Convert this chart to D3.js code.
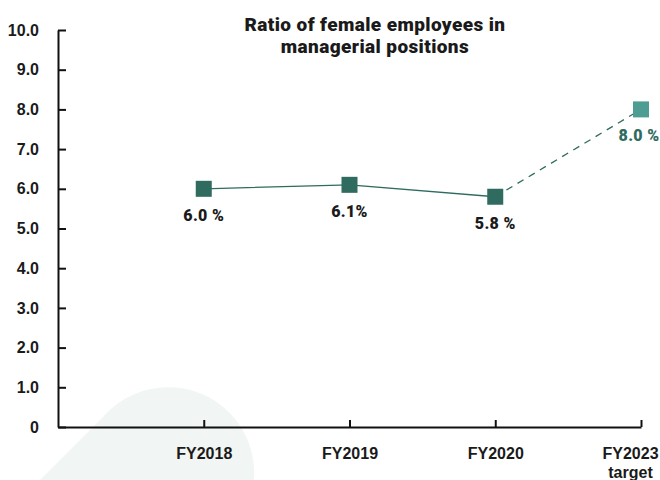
<!DOCTYPE html>
<html>
<head>
<meta charset="utf-8">
<script src="https://cdn.jsdelivr.net/npm/d3@7"></script>
<style>
  body { margin: 0; background: #fff; }
  svg { display: block; font-family: Roboto, "Noto Sans", sans-serif; }
  .axis text { font-weight: 900; font-size: 16px; fill: #1a1a1a; }
  .axis path, .axis line { stroke: #111; stroke-width: 2; }
</style>
</head>
<body>
<svg></svg>
<script>
const width = 660;
const height = 480;

// data
const categories = ["FY2018", "FY2019", "FY2020", "FY2023"];
const subLabels = ["", "", "", "target"];
const values = [6.0, 6.1, 5.8, 8.0];
const valueLabels = ["6.0 %", "6.1%", "5.8 %", "8.0 %"];
const yTicks = [0, 1, 2, 3, 4, 5, 6, 7, 8, 9, 10];

const dark = "#2f6b5e";
const light = "#4d9d93";

const svg = d3.select("svg")
    .attr("width", width)
    .attr("height", height);

// background decoration
svg.append("path")
    .attr("d", "M40,480 L104,416 A86,86 0 0,1 254,480 Z")
    .attr("fill", "#f1f5f3");

const x = d3.scaleLinear().domain([-1, categories.length - 1]).range([58, 641]);
const y = d3.scaleLinear().domain([0, 10]).range([427, 30]);

// y axis
svg.append("g")
    .attr("class", "axis")
    .attr("transform", "translate(58,0)")
    .call(d3.axisLeft(y)
        .tickValues(yTicks)
        .tickSizeInner(-8)
        .tickSizeOuter(0)
        .tickPadding(19)
        .tickFormat(d => d === 0 ? "0" : d3.format(".1f")(d)));

// x axis
const xAxis = svg.append("g")
    .attr("class", "axis")
    .attr("transform", "translate(0,427)")
    .call(d3.axisBottom(x)
        .tickValues(d3.range(categories.length))
        .tickSizeInner(-7)
        .tickSizeOuter(0)
        .tickPadding(21)
        .tickFormat(i => categories[i]));

xAxis.selectAll(".tick text")
    .attr("dx", (i) => i === categories.length - 1 ? -11 : 0)
    .each(function(i) {
        if (subLabels[i]) {
            d3.select(this.parentNode).append("text")
                .attr("x", -11)
                .attr("y", 21)
                .attr("dy", "1.85em")
                .attr("text-anchor", "middle")
                .attr("font-size", 16)
                .text(subLabels[i]);
        }
    });

// lines
const pts = values.map((v, i) => [x(i), y(v)]);
const n = values.length;

svg.append("path")
    .attr("d", d3.line()(pts.slice(0, n - 1)))
    .attr("fill", "none")
    .attr("stroke", dark)
    .attr("stroke-width", 1.3);

svg.append("path")
    .attr("d", d3.line()(pts.slice(n - 2)))
    .attr("fill", "none")
    .attr("stroke", dark)
    .attr("stroke-width", 1.3)
    .attr("stroke-dasharray", "7,6");

// markers
const size = 16;
svg.selectAll(".marker")
    .data(values)
    .enter().append("rect")
    .attr("class", "marker")
    .attr("x", (d, i) => x(i) - size / 2)
    .attr("y", d => y(d) - size / 2)
    .attr("width", size)
    .attr("height", size)
    .attr("fill", (d, i) => i === n - 1 ? light : dark);

// value labels
svg.selectAll(".vlabel")
    .data(values)
    .enter().append("text")
    .attr("class", "vlabel")
    .attr("x", (d, i) => x(i) - (i === n - 1 ? 2 : 0))
    .attr("y", d => y(d) + 32)
    .attr("text-anchor", "middle")
    .attr("font-weight", 900)
    .attr("font-size", 16)
    .attr("letter-spacing", 0.3)
    .attr("fill", (d, i) => i === n - 1 ? dark : "#1a1a1a")
    .text((d, i) => valueLabels[i]);

// title
const title = svg.append("text")
    .attr("x", 375)
    .attr("text-anchor", "middle")
    .attr("font-weight", 900)
    .attr("font-size", 19)
    .attr("letter-spacing", 0.4)
    .attr("fill", "#1a1a1a");
title.append("tspan").attr("x", 375).attr("y", 31).text("Ratio of female employees in");
title.append("tspan").attr("x", 375).attr("y", 53).text("managerial positions");
</script>
</body>
</html>
